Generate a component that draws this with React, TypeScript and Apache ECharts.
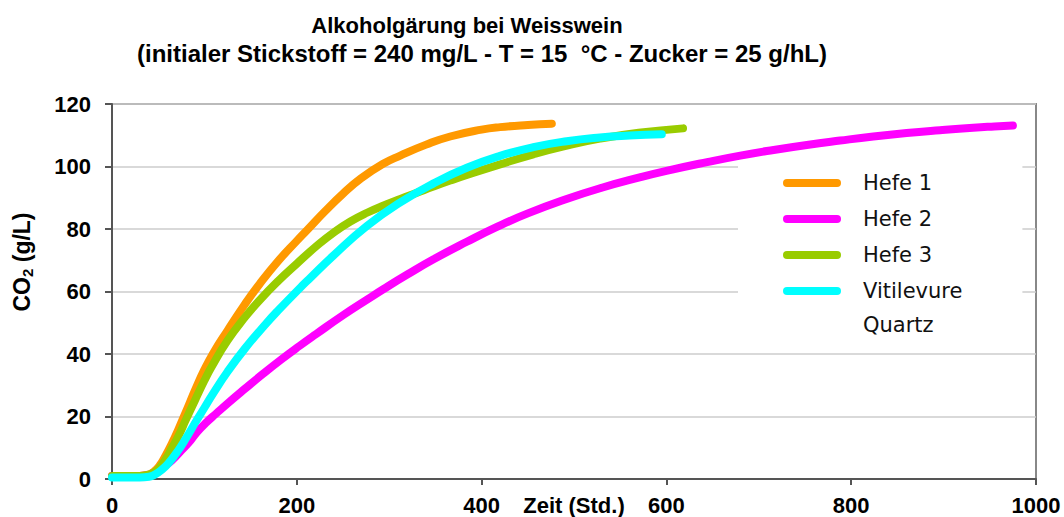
import React, { useEffect, useRef } from "react";
import * as echarts from "echarts";

const TITLE_LINE_1 = "Alkoholgärung bei Weisswein";
const TITLE_LINE_2 = "(initialer Stickstoff = 240 mg/L - T = 15  °C - Zucker = 25 g/hL)";
const X_NAME = "Zeit (Std.)";
const SERIES_NAMES = ["Hefe 1", "Hefe 2", "Hefe 3", "Vitilevure Quartz"];
const SERIES_COLORS = ["#FF9900", "#FF00FF", "#99CC00", "#00FFFF"];

// [time (h), CO2 (g/L)]
const hefe1: number[][] = [
  [0, 1], [30, 1], [38, 1.3], [45, 2.3], [52, 4.5], [58, 7.5], [65, 11.5], [72, 16],
  [80, 21.5], [90, 28.5], [100, 35], [110, 40.5], [125, 47.5], [144, 56], [160, 62.5],
  [180, 69.8], [200, 76.2], [211, 79.6], [230, 85.5], [250, 91.3], [270, 96.3], [293, 100.8],
  [312, 103.5], [340, 107], [366, 109.6], [400, 111.8], [420, 112.6], [450, 113.3], [476, 113.7],
];
const hefe2: number[][] = [
  [0, 1], [30, 1], [40, 1.3], [48, 2.3], [56, 4], [65, 6], [74, 8.8], [83, 11.6],
  [92, 15], [101, 17.8], [113, 21], [126, 24.4], [144, 28.9], [162, 33.3], [183, 38.2],
  [203, 42.6], [221, 46.4], [250, 52.4], [276, 57.4], [294, 60.8], [320, 65.5], [348, 70.3],
  [384, 75.9], [416, 80.6], [450, 85], [492, 89.6], [530, 93.2], [571, 96.5], [600, 98.6],
  [644, 101.4], [680, 103.5], [716, 105.3], [752, 106.9], [788, 108.3], [824, 109.6],
  [860, 110.7], [896, 111.6], [932, 112.4], [955, 112.8], [975, 113.1],
];
const hefe3: number[][] = [
  [0, 1], [30, 1], [38, 1.3], [45, 2], [52, 3.8], [58, 6.3], [65, 10], [72, 13.8],
  [80, 19], [90, 25.3], [100, 31.5], [108, 36], [125, 44.3], [144, 51.8], [160, 57.3],
  [180, 63.4], [200, 68.9], [222, 74.7], [240, 78.9], [258, 82.4], [276, 85.2], [294, 87.5],
  [312, 89.6], [330, 91.6], [348, 93.6], [366, 95.5], [384, 97.3], [420, 100.7], [456, 103.9],
  [490, 106.5], [528, 108.9], [570, 110.8], [618, 112.2],
];
const vitilevure: number[][] = [
  [0, 0.5], [30, 0.5], [40, 0.7], [47, 1.5], [54, 3], [61, 5], [72, 9.3], [80, 13],
  [90, 18], [100, 22.8], [108, 26.7], [125, 34.3], [144, 41.8], [167, 49.8], [180, 54],
  [204, 61.3], [213, 63.9], [240, 71.6], [276, 81], [312, 88.5], [348, 94.6], [384, 99.6],
  [420, 103.4], [456, 106.2], [492, 108.1], [528, 109.3], [560, 109.9], [595, 110.3],
];
const SERIES_DATA = [hefe1, hefe2, hefe3, vitilevure];

const X_MIN = 0, X_MAX = 1000, X_STEP = 200;
const Y_MIN = 0, Y_MAX = 120, Y_STEP = 20;

const BOLD = { fontFamily: "Liberation Sans, Arial, sans-serif", fontWeight: "bold" as const, color: "#000" };

export default function App() {
  const ref = useRef<HTMLDivElement>(null);
  useEffect(() => {
    if (!ref.current) return;
    const chart = echarts.init(ref.current, undefined, { renderer: "svg" });
    chart.setOption({
      animation: false,
      backgroundColor: "#fff",
      title: [
        { text: TITLE_LINE_1, left: 462, top: 9, textAlign: "center", textStyle: { ...BOLD, fontSize: 22 } },
        { text: TITLE_LINE_2, left: 477, top: 36, textAlign: "center", textStyle: { ...BOLD, fontSize: 24 } },
      ],
      grid: {
        left: 112, top: 104, right: 28, bottom: 38,
        containLabel: false, outerBoundsMode: "none",
        show: true, borderColor: "#888", borderWidth: 2, backgroundColor: "transparent",
      },
      legend: {
        orient: "vertical",
        left: 738, top: 160,
        padding: [10, 60, 42, 45],
        backgroundColor: "#fff",
        z: 1,
        itemWidth: 58, itemHeight: 8, itemGap: 10,
        icon: "path://M4 0H54A4 4 0 0 1 54 8H4A4 4 0 0 1 4 0Z",
        selectedMode: false,
        formatter: (name: string) => (name === "Vitilevure Quartz" ? "Vitilevure" : name),
        textStyle: { fontFamily: "DejaVu Sans", fontSize: 21, lineHeight: 26, color: "#111", padding: [0, 0, 0, 17] },
      },
      xAxis: {
        type: "value", min: X_MIN, max: X_MAX, interval: X_STEP,
        name: X_NAME, nameLocation: "middle", nameGap: 15, nameMoveOverlap: false,
        nameTextStyle: { ...BOLD, fontSize: 22, lineHeight: 22, verticalAlign: "top" },
        axisLine: { show: true, lineStyle: { color: "#555", width: 2 } },
        axisTick: { show: true, length: 6, lineStyle: { color: "#555", width: 2 } },
        axisLabel: { ...BOLD, fontSize: 22, lineHeight: 22, margin: 15, formatter: (v: number) => String(v) },
        splitLine: { show: false },
      },
      yAxis: {
        type: "value", min: Y_MIN, max: Y_MAX, interval: Y_STEP,
        axisLine: { show: true, lineStyle: { color: "#555", width: 2 } },
        axisTick: { show: true, length: 7, lineStyle: { color: "#555", width: 2 } },
        axisLabel: { ...BOLD, fontSize: 22, margin: 21, formatter: (v: number) => String(v) },
        splitLine: { show: true, lineStyle: { color: "#ccc", width: 1.5 } },
      },
      graphic: [
        {
          type: "text", x: 863, y: 325, z: 100,
          style: { text: "Quartz", fontFamily: "DejaVu Sans", fontSize: 21, fill: "#111", align: "left", verticalAlign: "middle" },
        },
        {
          type: "text", x: 22, y: 262, rotation: Math.PI / 2, z: 100,
          style: {
            text: "{a|CO}{b|2}{a| (g/L)}",
            align: "center", verticalAlign: "middle",
            rich: {
              a: { ...BOLD, fill: "#000", fontSize: 23, lineHeight: 26 },
              b: { ...BOLD, fill: "#000", fontSize: 15, lineHeight: 26, padding: [10, 0, 0, 0] },
            },
          },
        },
      ],
      series: SERIES_NAMES.map((name, i) => ({
        name,
        type: "line",
        data: SERIES_DATA[i],
        smooth: 0.5,
        showSymbol: false,
        symbol: "none",
        color: SERIES_COLORS[i],
        lineStyle: { color: SERIES_COLORS[i], width: 8, cap: "round", join: "round" },
        z: 2,
      })),
    });
    return () => chart.dispose();
  }, []);
  return <div ref={ref} style={{ position: "fixed", left: 0, top: 0, width: 1064, height: 517 }} />;
}
